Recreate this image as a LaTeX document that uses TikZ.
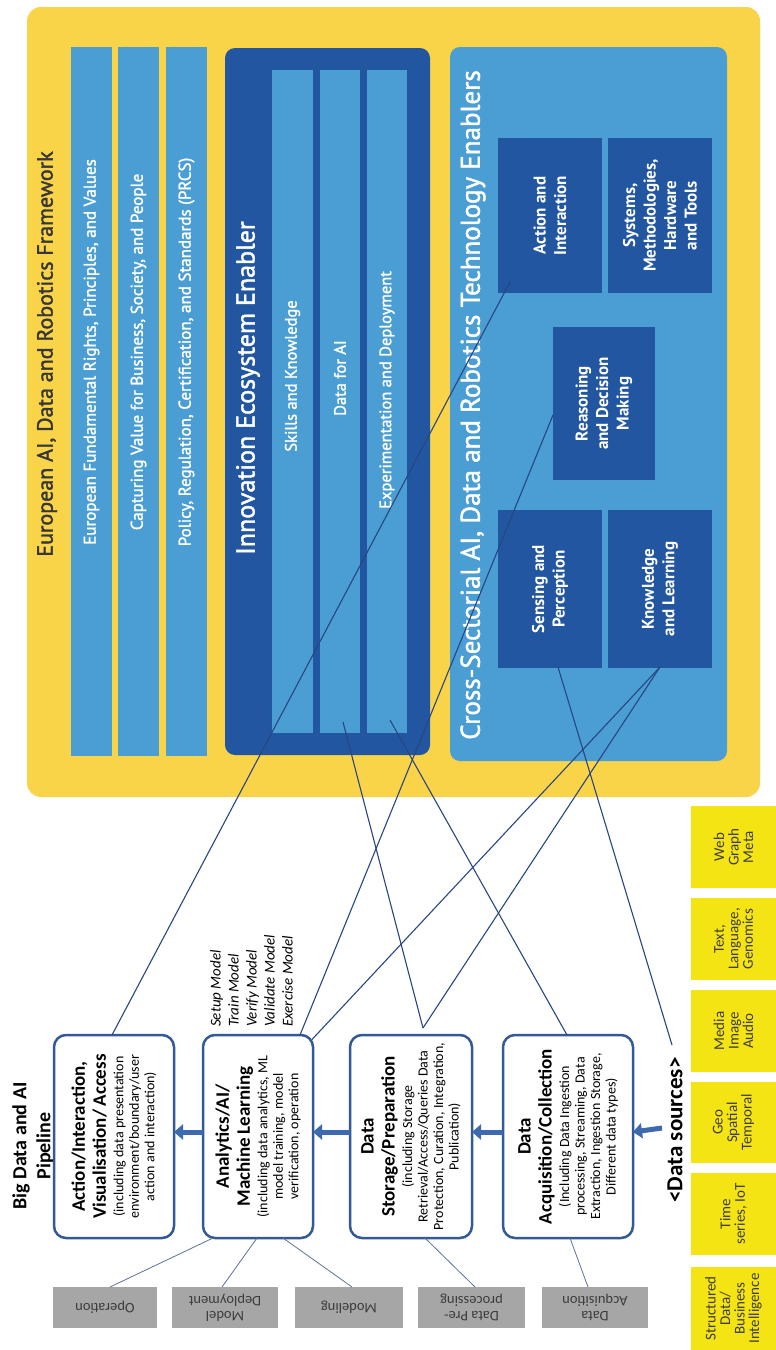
\documentclass[tikz,border=0pt]{standalone}
\usepackage{fontspec}
\setmainfont{Carlito}
\newfontfamily\ptsans[FakeBold=1.6]{PT Sans}
\newfontfamily\ptsansb{PT Sans Bold}
\usetikzlibrary{arrows.meta,calc}
\definecolor{fwyellow}{RGB}{250,212,72}
\definecolor{lblue}{RGB}{74,158,212}
\definecolor{dblue}{RGB}{34,86,160}
\definecolor{pblue}{RGB}{52,90,150}
\definecolor{ablue}{RGB}{60,105,175}
\definecolor{lineblue}{RGB}{40,70,130}
\definecolor{glines}{RGB}{95,115,150}
\definecolor{gboxfill}{RGB}{166,166,166}
\definecolor{gtext}{RGB}{60,60,60}
\definecolor{dsyellow}{RGB}{245,228,20}
\definecolor{titlegray}{RGB}{55,55,55}
\newcommand\pbold{\fontsize{19}{21}\selectfont\bfseries}
\newcommand\psmall{\fontsize{14}{15.5}\selectfont\mdseries}
\begin{document}
\begin{tikzpicture}[x=1pt,y=-1pt,
  fwbox/.style={fill=fwyellow, rounded corners=14pt, inner sep=0pt, outer sep=0pt},
  lbar/.style={fill=lblue, inner sep=0pt, outer sep=0pt},
  dfill/.style={fill=dblue, inner sep=0pt, outer sep=0pt},
  fwtitle/.style={rotate=90, inner sep=0pt, text=titlegray, font=\ptsans\fontsize{22}{26}\selectfont},
  bartext/.style={rotate=90, inner sep=0pt, text=white, font=\ptsans\fontsize{17}{20}\selectfont},
  ibtext/.style={rotate=90, inner sep=0pt, text=white, font=\ptsans\fontsize{16.5}{19}\selectfont},
  bigtitle/.style={rotate=90, inner sep=0pt, text=white, font=\ptsans\fontsize{#1}{30}\selectfont},
  dbox/.style={fill=dblue, rotate=90, inner sep=0pt, outer sep=0pt, text=white, align=center, font=\ptsansb\fontsize{17}{20.5}\selectfont},
  pbox/.style={draw=pblue, line width=2.5pt, fill=white, rounded corners=12pt, rotate=90, inner sep=0pt, align=center},
  pipetitle/.style={rotate=90, inner sep=0pt, align=center, font=\bfseries\fontsize{20}{24}\selectfont},
  setupstyle/.style={rotate=90, inner sep=0pt, align=left, font=\itshape\fontsize{15}{18}\selectfont},
  dstext/.style={rotate=90, inner sep=0pt, font=\bfseries\fontsize{23}{26}\selectfont},
  dsbox/.style={fill=dsyellow, rotate=90, inner sep=0pt, align=center, text=gtext, font=\fontsize{15}{14.5}\selectfont},
  graybox/.style={fill=gboxfill, rotate=180, inner sep=0pt, align=center, text=gtext, font=\fontsize{14.5}{15}\selectfont},
  conn/.style={draw=lineblue, line width=1.1pt},
  gconn/.style={draw=glines, line width=0.8pt},
  fat/.style={draw=ablue, line width=5pt, -{Triangle[length=9pt,width=15pt]}}
]
\useasboundingbox (0,0) rectangle (776,1350);
\fill[white] (0,0) rectangle (776,1350);

% ---------- Framework ----------
\node[fwbox, minimum width=733pt, minimum height=790pt] (fw) at (393.5,402) {};
\node[fwtitle] (fwt) at (47,354) {European AI, Data and Robotics Framework};

\node[lbar, minimum width=41pt, minimum height=709pt] (bar1) at (91.5,401.5) {};
\node[lbar, minimum width=41pt, minimum height=709pt] (bar2) at (138.5,401.5) {};
\node[lbar, minimum width=41pt, minimum height=709pt] (bar3) at (186.5,401.5) {};
\node[bartext] (bar1t) at (91.5,352) {European Fundamental Rights, Principles, and Values};
\node[bartext] (bar2t) at (138.5,352) {Capturing Value for Business, Society, and People};
\node[bartext] (bar3t) at (186.5,352) {Policy, Regulation, Certification, and Standards (PRCS)};

% ---------- Innovation Ecosystem ----------
\node[dfill, rounded corners=10pt, minimum width=205pt, minimum height=707pt] (inno) at (327.5,401.5) {};
\node[bigtitle=26] (innot) at (248,388) {Innovation Ecosystem Enabler};
\node[lbar, minimum width=41pt, minimum height=663pt] (ib1) at (292.5,401.5) {};
\node[lbar, minimum width=40pt, minimum height=663pt] (ib2) at (340,401.5) {};
\node[lbar, minimum width=40pt, minimum height=663pt] (ib3) at (387,401.5) {};
\node[ibtext] (ib1t) at (292.5,376) {Skills and Knowledge};
\node[ibtext] (ib2t) at (340,378) {Data for AI};
\node[ibtext] (ib3t) at (387,390) {Experimentation and Deployment};

% ---------- Cross-Sectorial ----------
\node[lbar, rounded corners=10pt, minimum width=277pt, minimum height=714pt] (cross) at (588.5,404) {};
\node[bigtitle=27] (crosst) at (473,405) {Cross-Sectorial AI, Data and Robotics Technology Enablers};
\node[dbox, minimum width=155pt, minimum height=104pt] (act) at (550,215.5) {Action and\\Interaction};
\node[dbox, minimum width=155pt, minimum height=104pt] (sys) at (660,215.5) {Systems,\\Methodologies,\\Hardware\\and Tools};
\node[dbox, minimum width=153pt, minimum height=102pt] (rea) at (604,403.5) {Reasoning\\and Decision\\Making};
\node[dbox, minimum width=158pt, minimum height=104pt] (sen) at (550,589) {Sensing and\\Perception};
\node[dbox, minimum width=158pt, minimum height=104pt] (kno) at (660,589) {Knowledge\\and Learning};

% ---------- Pipeline ----------
\node[pipetitle] (ptitle) at (33,1146) {Big Data and AI\\Pipeline};

\node[pbox, minimum width=203pt, minimum height=120pt, text width=197pt] (b1) at (114,1136.5)
  {\pbold Action/Interaction,\\Visualisation/ Access\par\vspace{2pt}\psmall (including  data presentation\\environment/boundary/user\\action and interaction)\par};
\node[pbox, minimum width=203pt, minimum height=110pt, text width=197pt] (b2) at (258,1136.5)
  {\pbold Analytics/AI/\\Machine Learning\par\vspace{2pt}\psmall (including data analytics, ML\\model training, model\\verification, operation\par};
\node[pbox, minimum width=203pt, minimum height=122pt, text width=197pt] (b3) at (411,1136.5)
  {\pbold Data\\Storage/Preparation\par\vspace{2pt}\psmall (including Storage\\Retrieval/Access/Queries Data\\Protection, Curation, Integration,\\Publication)\par};
\node[pbox, minimum width=203pt, minimum height=130pt, text width=197pt] (b4) at (568,1136.5)
  {\pbold Data\\Acquisition/Collection\par\vspace{2pt}\psmall (Including Data Ingestion\\processing, Streaming, Data\\Extraction, Ingestion Storage,\\Different data types)\par};

\node[setupstyle, anchor=north west] (setup) at (210,1027) {Setup Model\\Train Model\\Verify Model\\Validate Model\\Exercise Model};

\node[dstext] (ds) at (675,1130) {<Data sources>};

% ---------- Data source boxes ----------
\node[dsbox, minimum width=82pt, minimum height=85pt] (web) at (733.5,847) {Web\\Graph\\Meta};
\node[dsbox, minimum width=82pt, minimum height=85pt] (txt) at (733.5,939) {Text,\\Language,\\Genomics};
\node[dsbox, minimum width=82pt, minimum height=85pt] (med) at (733.5,1031) {Media\\Image\\Audio};
\node[dsbox, minimum width=81pt, minimum height=85pt] (geo) at (733.5,1122.5) {Geo\\Spatial\\Temporal};
\node[dsbox, minimum width=82pt, minimum height=85pt] (tim) at (733.5,1214) {Time\\series, IoT};
\node[dsbox, minimum width=83pt, minimum height=85pt] (str) at (733.5,1308.5) {Structured\\Data/\\Business\\Intelligence};

% ---------- Gray stage boxes ----------
\node[graybox, minimum width=104pt, minimum height=41pt] (op) at (105,1307.5) {Operation};
\node[graybox, minimum width=106pt, minimum height=41pt] (md) at (225,1307.5) {Model\\Deployment};
\node[graybox, minimum width=108pt, minimum height=41pt] (mo) at (349,1307.5) {Modeling};
\node[graybox, minimum width=107pt, minimum height=41pt] (dp) at (471.5,1307.5) {Data Pre-\\processing};
\node[graybox, minimum width=106pt, minimum height=41pt] (da) at (595,1307.5) {Data\\Acquisition};

% ---------- thick pipeline arrows ----------
\draw[fat] ($(b2.center)+(-55,-4.5)$) -- ($(b1.center)+(60,-4.5)$);
\draw[fat] ($(b3.center)+(-61,-4.5)$) -- ($(b2.center)+(55,-4.5)$);
\draw[fat] ($(b4.center)+(-65,-4.5)$) -- ($(b3.center)+(61,-4.5)$);
\draw[fat] ($(ds.center)+(-13,-2)$) -- ($(b4.center)+(65,-4.5)$);

% ---------- gray connectors ----------
\draw[gconn] ($(b2.center)+(-45,101.5)$) -- ($(op.center)+(5,-20.5)$);
\draw[gconn] ($(b2.center)+(-1,101.5)$) -- ($(md.center)+(-3,-20.5)$);
\draw[gconn] ($(b2.center)+(25,101.5)$) -- ($(mo.center)+(3,-20.5)$);
\draw[gconn] ($(b3.center)+(14,101.5)$) -- ($(dp.center)+(3.5,-20.5)$);
\draw[gconn] ($(b4.center)+(2,101.5)$) -- ($(da.center)+(-7,-20.5)$);

% ---------- main connectors ----------
\draw[conn] ($(b1.center)+(-2,-101.5)$) -- ($(act.center)+(-40,66.5)$);
\draw[conn] ($(b2.center)+(42,-101.5)$) -- ($(rea.center)+(-51,11.5)$);
\draw[conn] ($(b2.center)+(54,-97)$) -- ($(kno.center)+(0,78)$);
\draw[conn] ($(b3.center)+(12,-108.5)$) -- ($(kno.center)+(0,78)$);
\draw[conn] ($(b3.center)+(12,-108.5)$) -- ($(ib2.center)+(3,320.5)$);
\draw[conn] ($(b4.center)+(-1,-101.5)$) -- ($(ib3.center)+(3,318.5)$);
\draw[conn] ($(ds.center)+(-3,-85)$) -- ($(sen.center)+(8,78)$);
\end{tikzpicture}
\end{document}
